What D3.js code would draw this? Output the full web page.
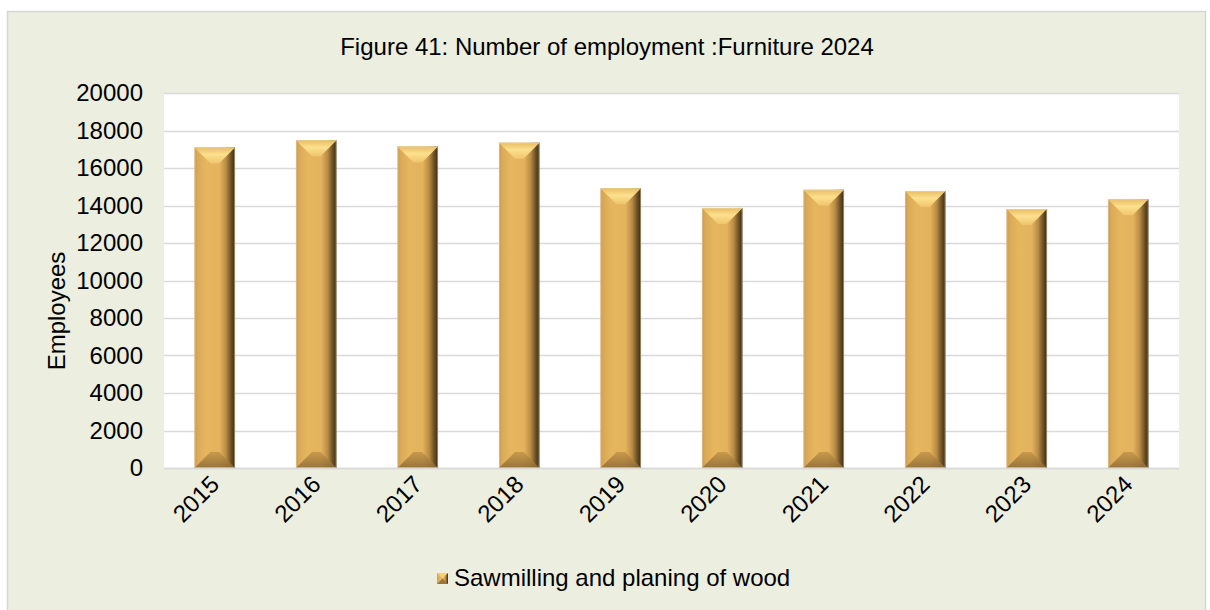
<!DOCTYPE html>
<html>
<head>
<meta charset="utf-8">
<script src="https://cdn.jsdelivr.net/npm/d3@7/dist/d3.min.js"></script>
<style>
  html, body { margin: 0; padding: 0; background: #ffffff; }
  svg { display: block; font-family: "Liberation Sans", Arial, sans-serif; }
</style>
</head>
<body>
<svg id="chart" width="1210" height="610"></svg>
<script>
// Employment figures, sawmilling and planing of wood
const years = ["2015", "2016", "2017", "2018", "2019", "2020", "2021", "2022", "2023", "2024"];
const employees = [17100, 17480, 17150, 17350, 14920, 13870, 14840, 14770, 13810, 14330];
const yTicks = [0, 2000, 4000, 6000, 8000, 10000, 12000, 14000, 16000, 18000, 20000];
const seriesName = "Sawmilling and planing of wood";
const titleText = "Figure 41: Number of employment :Furniture 2024";
const yTitle = "Employees";

const svg = d3.select("#chart");
const plot = { left: 164, right: 1179, top: 93, bottom: 468 };
const FS = 24;

// outer frame
svg.append("rect")
  .attr("x", 7.5).attr("y", 11.5)
  .attr("width", 1198).attr("height", 610)
  .attr("fill", "#ECEEDF").attr("stroke", "#D6D6D6").attr("stroke-width", 1.5);

// plot area
svg.append("rect")
  .attr("x", plot.left).attr("y", plot.top)
  .attr("width", plot.right - plot.left).attr("height", plot.bottom - plot.top)
  .attr("fill", "#ffffff");

const x = d3.scaleBand().domain(years).range([plot.left, plot.right]).paddingInner(0.6).paddingOuter(0.3);
const y = d3.scaleLinear().domain([0, 20000]).range([plot.bottom, plot.top]);

// gradients for bevelled bars
const defs = svg.append("defs");
const body = defs.append("linearGradient").attr("id", "barBody").attr("x1", 0).attr("x2", 1).attr("y1", 0).attr("y2", 0);
[[0, "#C9974A"], [0.08, "#DBAA58"], [0.3, "#E6B65F"], [0.62, "#E4B35D"], [0.78, "#B88C45"], [0.9, "#6E5226"], [1, "#3A2B12"]]
  .forEach(([o, c]) => body.append("stop").attr("offset", o).attr("stop-color", c));
const topG = defs.append("linearGradient").attr("id", "barTop").attr("x1", 0).attr("x2", 0).attr("y1", 0).attr("y2", 1);
[[0, "#E9BC62"], [0.45, "#FCE08E"], [1, "#F0C46C"]]
  .forEach(([o, c]) => topG.append("stop").attr("offset", o).attr("stop-color", c));
const botG = defs.append("linearGradient").attr("id", "barBot").attr("x1", 0).attr("x2", 0).attr("y1", 0).attr("y2", 1);
[[0, "#C49449"], [1, "#8C6A33"]]
  .forEach(([o, c]) => botG.append("stop").attr("offset", o).attr("stop-color", c));

// gridlines
svg.append("g").selectAll("line").data(yTicks).join("line")
  .attr("x1", plot.left).attr("x2", plot.right)
  .attr("y1", d => Math.round(y(d)) + 0.5).attr("y2", d => Math.round(y(d)) + 0.5)
  .attr("stroke", "#D9D9D9").attr("stroke-width", 1.5);

// y axis labels
const yAxis = d3.axisLeft(y).tickValues(yTicks).tickSize(0).tickPadding(21).tickFormat(d3.format("d"));
const gy = svg.append("g").attr("transform", `translate(${plot.left},0)`).call(yAxis);
gy.select(".domain").remove();
gy.selectAll("text").attr("font-size", FS).attr("fill", "#000").attr("font-family", "Liberation Sans, Arial, sans-serif");

// bars
const bev = 16;
const bars = svg.append("g").selectAll("g").data(years.map((yr, i) => ({ yr, v: employees[i] }))).join("g");
bars.append("rect")
  .attr("x", d => x(d.yr)).attr("y", d => y(d.v))
  .attr("width", x.bandwidth()).attr("height", d => y(0) - y(d.v))
  .attr("fill", "url(#barBody)");
bars.append("path")
  .attr("d", d => {
    const x0 = x(d.yr), x1 = x0 + x.bandwidth(), t = y(d.v);
    return `M${x0},${t}L${x1},${t}L${x1 - bev},${t + bev}L${x0 + bev},${t + bev}Z`;
  })
  .attr("fill", "url(#barTop)");
bars.append("path")
  .attr("d", d => {
    const x0 = x(d.yr), x1 = x0 + x.bandwidth(), b = y(0);
    return `M${x0},${b}L${x1},${b}L${x1 - bev},${b - bev}L${x0 + bev},${b - bev}Z`;
  })
  .attr("fill", "url(#barBot)").attr("opacity", 0.85);
bars.append("rect")
  .attr("x", d => x(d.yr) + 0.5).attr("y", d => y(d.v) + 0.5)
  .attr("width", x.bandwidth() - 1).attr("height", d => y(0) - y(d.v) - 1)
  .attr("fill", "none").attr("stroke", "#E8D9B8").attr("stroke-width", 0.8).attr("stroke-opacity", 0.6);

// x axis line
svg.append("line")
  .attr("x1", plot.left).attr("x2", plot.right)
  .attr("y1", plot.bottom + 0.5).attr("y2", plot.bottom + 0.5)
  .attr("stroke", "#D9D9D9").attr("stroke-width", 1.5);

// x labels, rotated
svg.append("g").selectAll("text").data(years).join("text")
  .attr("transform", d => `translate(${x(d) + x.bandwidth() / 2 - 6},${plot.bottom + 6}) rotate(-45)`)
  .attr("text-anchor", "end").attr("dy", "0.7em")
  .attr("font-size", FS).attr("fill", "#000")
  .text(d => d);

// title
svg.append("text")
  .attr("x", 607).attr("y", 55)
  .attr("text-anchor", "middle").attr("font-size", FS).attr("fill", "#000")
  .text(titleText);

// y axis title
svg.append("text")
  .attr("transform", `translate(65,311) rotate(-90)`)
  .attr("text-anchor", "middle").attr("font-size", FS).attr("fill", "#000")
  .text(yTitle);

// legend
const lg = svg.append("g").attr("transform", "translate(437,573)");
lg.append("rect").attr("width", 11).attr("height", 11).attr("fill", "url(#barBody)");
lg.append("path").attr("d", "M0,0L11,0L5.5,5.5Z").attr("fill", "#F4D07C");
lg.append("path").attr("d", "M0,11L11,11L5.5,5.5Z").attr("fill", "#9A7438");
lg.append("text").attr("x", 17).attr("y", 13).attr("font-size", FS).attr("fill", "#000").text(seriesName);
</script>
</body>
</html>
